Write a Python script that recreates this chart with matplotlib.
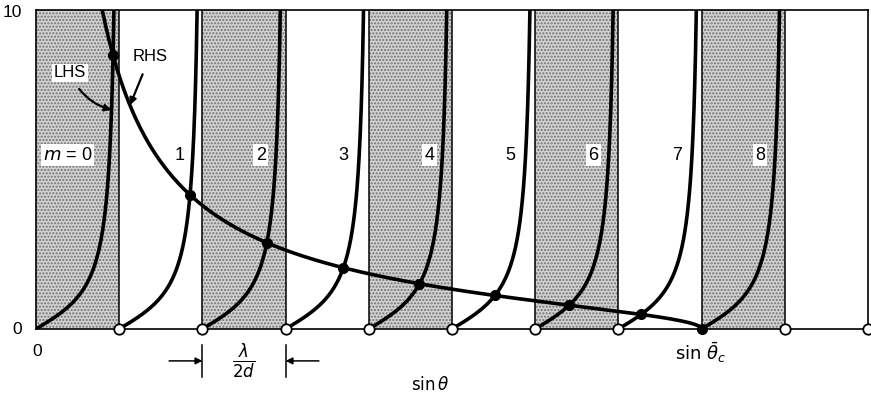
import numpy as np
import matplotlib
matplotlib.use("Agg")
import matplotlib.pyplot as plt

plt.rcParams['font.family'] = ['Liberation Sans', 'DejaVu Sans']
plt.rcParams['mathtext.fontset'] = 'dejavusans'
plt.rcParams['hatch.color'] = '#707070'
plt.rcParams['hatch.linewidth'] = 1.0

# sin(theta) measured in units of lambda/2d
modes = [0, 1, 2, 3, 4, 5, 6, 7, 8]
sin_theta_c = 8.0
y_top = 10.0
x_right = 10.0
mode_labels = ['$m$ = 0', '1', '2', '3', '4', '5', '6', '7', '8']
label_x = [0.38, 1.73, 2.70, 3.70, 4.73, 5.70, 6.70, 7.70, 8.70]
label_y = 5.45
open_marks = [1, 2, 3, 4, 5, 6, 7, 9, 10]


def lhs(x, m):
    return np.tan(np.pi / 2 * (x - m))


def rhs(x):
    return np.sqrt((sin_theta_c / x) ** 2 - 1)


def crossing(m):
    # bisection on LHS - RHS inside one branch
    lo = m + 1e-9
    hi = min(m + 1 - 1e-9, sin_theta_c - 1e-9)
    for _ in range(80):
        mid = 0.5 * (lo + hi)
        if lhs(mid, m) - rhs(mid) < 0:
            lo = mid
        else:
            hi = mid
    return mid


fig = plt.figure(figsize=(8.71, 4.03), dpi=100)
ax = fig.add_axes([36 / 871, 1 - 329 / 403, 832 / 871, 319 / 403])
ax.set_xlim(0, x_right)
ax.set_ylim(0, y_top)
ax.set_xticks([])
ax.set_yticks([])
for s in ax.spines.values():
    s.set_linewidth(1.2)

# shaded even-mode bands
for m in modes:
    if m % 2 == 0:
        ax.axvspan(m, m + 1, facecolor='#d2d2d2', hatch='.....',
                   edgecolor='#707070', linewidth=0, zorder=0)
for k in range(1, int(x_right)):
    ax.axvline(k, color='black', lw=1.1, zorder=1)

# LHS branches
x_cut = 2 / np.pi * np.arctan(y_top)
for m in modes:
    xs = np.linspace(m, m + x_cut, 300)
    ax.plot(xs, lhs(xs, m), color='black', lw=2.6, zorder=3,
            solid_capstyle='butt')

# RHS curve
x0 = sin_theta_c / np.sqrt(1 + y_top ** 2)
xs = np.linspace(x0, sin_theta_c, 600)
ax.plot(xs, rhs(xs), color='black', lw=2.6, zorder=3)

# solutions
sol_x = [crossing(m) for m in modes[:-1]] + [sin_theta_c]
sol_y = [rhs(x) for x in sol_x[:-1]] + [0.0]
ax.plot(sol_x, sol_y, 'o', color='black', ms=7, zorder=5, clip_on=False)
ax.plot(open_marks, [0] * len(open_marks), 'o', mfc='white', mec='black',
        mew=1.3, ms=7.5, zorder=6, clip_on=False)

# mode labels
for i, m in enumerate(modes):
    bb = None
    if m % 2 == 0:
        bb = dict(boxstyle='square,pad=0.12', fc='white', ec='none')
    ax.text(label_x[i], label_y, mode_labels[i], fontsize=13,
            ha='center', va='center', bbox=bb, zorder=4)

ax.annotate('LHS', xy=(0.91, 6.87), xytext=(0.41, 8.03), fontsize=12,
            ha='center', va='center', zorder=7,
            bbox=dict(boxstyle='square,pad=0.1', fc='white', ec='none'),
            arrowprops=dict(arrowstyle='-|>', color='black', lw=1.6,
                            connectionstyle='arc3,rad=0.25',
                            shrinkA=6, shrinkB=0, mutation_scale=10))
ax.annotate('RHS', xy=(1.13, 7.02), xytext=(1.37, 8.55), fontsize=12,
            ha='center', va='center', zorder=7,
            arrowprops=dict(arrowstyle='-|>', color='black', lw=1.6,
                            connectionstyle='arc3,rad=0.0',
                            shrinkA=6, shrinkB=0, mutation_scale=10))

# axis labels
ax.text(-0.17, y_top - 0.08, '10', fontsize=12.5, ha='right', va='center',
        clip_on=False)
ax.text(-0.17, 0, '0', fontsize=12.5, ha='right', va='center', clip_on=False)
ax.text(0.02, -0.72, '0', fontsize=12.5, ha='center', va='center',
        clip_on=False)
ax.text(4.74, -1.72, r'$\sin\theta$', fontsize=12, ha='center', va='center')
ax.text(7.99, -0.75, r'$\sin\,\bar{\theta}_c$', fontsize=13, ha='center',
        va='center')

# lambda/2d spacing marker
for k in (2, 3):
    ax.plot([k, k], [-0.5, -1.5], color='black', lw=1.1, clip_on=False)
ax.annotate('', xy=(2.0, -1.0), xytext=(1.6, -1.0), annotation_clip=False,
            arrowprops=dict(arrowstyle='-|>', color='black', lw=1.1,
                            shrinkA=0, shrinkB=0, mutation_scale=10))
ax.annotate('', xy=(3.0, -1.0), xytext=(3.4, -1.0), annotation_clip=False,
            arrowprops=dict(arrowstyle='-|>', color='black', lw=1.1,
                            shrinkA=0, shrinkB=0, mutation_scale=10))
ax.text(2.5, -1.0, r'$\frac{\lambda}{2d}$', fontsize=17, ha='center',
        va='center')

fig.savefig('out.png', dpi=100)
